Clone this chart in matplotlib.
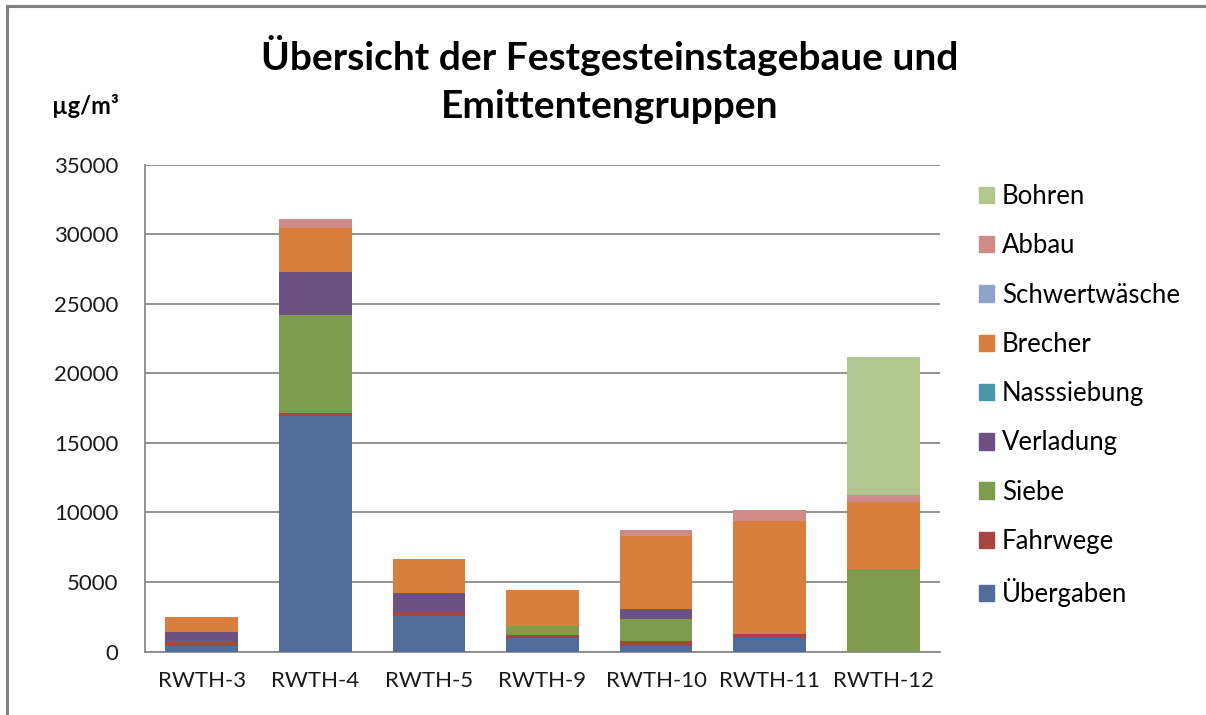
import matplotlib
matplotlib.use("Agg")
import matplotlib.pyplot as plt
from matplotlib.patches import Patch
import numpy as np

plt.rcParams["font.family"] = ["Lato", "DejaVu Sans"]

sites = ["RWTH-3", "RWTH-4", "RWTH-5", "RWTH-9", "RWTH-10", "RWTH-11", "RWTH-12"]

# stack order bottom -> top
groups = ["Übergaben", "Fahrwege", "Siebe", "Verladung", "Nasssiebung",
          "Brecher", "Schwertwäsche", "Abbau", "Bohren"]
uebergaben = [430, 16900, 2520, 960, 430, 980, 0]
fahrwege = [360, 250, 310, 240, 310, 290, 0]
siebe = [0, 7050, 0, 650, 1610, 0, 5950]
verladung = [600, 3100, 1400, 0, 720, 0, 0]
nasssiebung = [0, 0, 0, 0, 0, 0, 0]
brecher = [1120, 3150, 2400, 2600, 5210, 8090, 4800]
schwertwaesche = [0, 0, 0, 0, 0, 0, 0]
abbau = [0, 600, 0, 0, 430, 790, 530]
bohren = [0, 0, 0, 0, 0, 0, 9910]

yticks = [0, 5000, 10000, 15000, 20000, 25000, 30000, 35000]

COLORS = ["#4f6c9a", "#a84441", "#7f9b4d", "#6c5182", "#4a97a8",
          "#d97e3d", "#8fa4cb", "#d08a88", "#b2c78e"]

series = [uebergaben, fahrwege, siebe, verladung, nasssiebung,
          brecher, schwertwaesche, abbau, bohren]

fig = plt.figure(figsize=(12.06, 7.15), dpi=100)
ax = fig.add_axes([145 / 1206, 1 - 651.5 / 715, 795 / 1206, 487 / 715])

x = np.arange(len(sites))
bottom = np.zeros(len(sites))
for name, values, color in zip(groups, series, COLORS):
    ax.bar(x, values, 0.64, bottom=bottom, color=color, label=name, zorder=3)
    bottom += np.array(values)

ax.set_xlim(-0.5, len(sites) - 0.5)
ax.set_ylim(0, 35000)
ax.set_yticks(yticks)
ax.set_yticklabels([str(v) for v in yticks])
ax.set_xticks(x)
ax.set_xticklabels(sites)
ax.tick_params(axis="y", length=0, pad=19, labelsize=16, labelcolor="#1a1a1a")
ax.tick_params(axis="x", length=0, pad=14, labelsize=16, labelcolor="#1a1a1a")

ax.grid(axis="y", color="#8a8a8a", linewidth=1.3, zorder=0)
for side in ["top", "right"]:
    ax.spines[side].set_visible(False)
for side in ["left", "bottom"]:
    ax.spines[side].set_color("#8a8a8a")
    ax.spines[side].set_linewidth(1.3)

fig.text(610 / 1206, 1 - 55 / 715, "Übersicht der Festgesteinstagebaue und",
         ha="center", va="center", fontsize=28, fontweight="bold")
fig.text(610 / 1206, 1 - 107 / 715, "Emittentengruppen",
         ha="center", va="center", fontsize=28, fontweight="bold")
fig.text(52 / 1206, 1 - 106 / 715, "µg/m³", ha="left", va="center",
         fontsize=17, fontweight="bold")

handles = [Patch(color=c, label=g) for g, c in zip(groups, COLORS)][::-1]
fig.legend(handles=handles, loc="upper left",
           bbox_to_anchor=(979 / 1206, 1 - 184 / 715), frameon=False,
           fontsize=18.5, handlelength=0.6, handleheight=0.6,
           handletextpad=0.3, labelspacing=0.945, borderpad=0,
           borderaxespad=0)

# outer frame of the original chart
fig.add_artist(plt.Line2D([7 / 1206, 7 / 1206], [0, 1 - 6 / 715],
                          transform=fig.transFigure, color="#808080", linewidth=2.2))
fig.add_artist(plt.Line2D([7 / 1206, 1], [1 - 6 / 715, 1 - 6 / 715],
                          transform=fig.transFigure, color="#808080", linewidth=2.2))

fig.savefig("out.png", dpi=100)
